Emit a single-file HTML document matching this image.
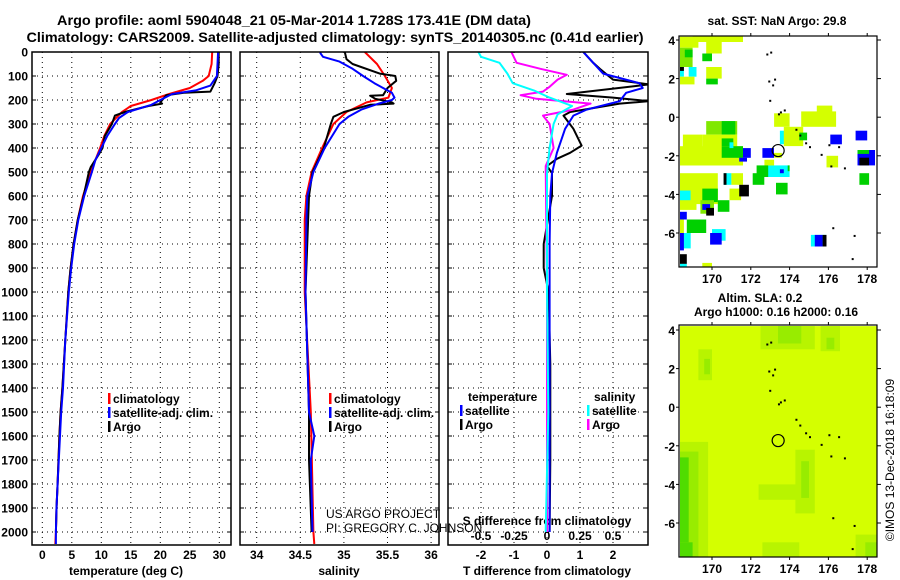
<!DOCTYPE html>
<html><head><meta charset="utf-8"><style>
html,body{margin:0;padding:0;background:#fff;}
svg{display:block;font-family:"Liberation Sans",sans-serif;}
.b{font-weight:bold;font-size:12px;}
</style></head><body>
<svg id="s" width="900" height="580" viewBox="0 0 900 580" xmlns="http://www.w3.org/2000/svg">
<text x="294" y="25" text-anchor="middle" font-weight="bold" font-size="14" textLength="474" lengthAdjust="spacingAndGlyphs">Argo profile: aoml 5904048_21 05-Mar-2014 1.728S 173.41E (DM data)</text>
<text x="335" y="42" text-anchor="middle" font-weight="bold" font-size="14" textLength="617" lengthAdjust="spacingAndGlyphs">Climatology: CARS2009. Satellite-adjusted climatology: synTS_20140305.nc (0.41d earlier)</text>
<g id="g"></g>
</svg>
<script>
// ---------- data ----------
const depthTicks=[0,100,200,300,400,500,600,700,800,900,1000,1100,1200,1300,1400,1500,1600,1700,1800,1900,2000];
const tempTicks=[0,5,10,15,20,25,30];
const salTicks=[34,34.5,35,35.5,36];
const tdiffTicks=[-2,-1,0,1,2];
const sdiffTicks=[-0.5,-0.25,0,0.25,0.5];
const latTicks=[4,2,0,-2,-4,-6];
const lonTicks=[170,172,174,176,178];

const tClimDepth=[0,50,100,120,150,175,200,225,250,275,300,350,400,450,500,600,700,800,900,1000,1200,1400,1500,1600,1800,1900,2000,2050];
const tClimVal=[28.8,28.7,28.2,27.2,25,21.5,18.5,15,13.5,12.5,11.5,10.5,9.8,9,8.2,6.9,6,5.3,4.8,4.4,3.9,3.4,3.1,2.9,2.6,2.4,2.3,2.2];
const tSatDepth=[0,100,140,160,175,200,220,250,275,300,350,400,450,500,600,700,800,900,1000,1200,1400,1500,1600,1800,1900,2000,2050];
const tSatVal=[29.8,29.6,28.5,26,22,20,18.5,14.5,13,12.3,11,10,9,8.4,7.1,6.1,5.4,4.9,4.5,3.9,3.5,3.2,3.0,2.6,2.4,2.3,2.3];
const tArgoDepth=[0,50,100,130,165,170,180,210,215,225,250,265,300,350,400,430,480,500,600,700,800,900,1000,1200,1400,1500,1600,1800,1900,2000];
const tArgoVal=[29.9,29.9,29.7,29.2,28.5,24,21,20,20.3,18,14,12.3,11.8,10.6,10.2,9.5,8.2,7.9,7.0,6.0,5.3,4.8,4.4,3.9,3.4,3.1,2.9,2.6,2.4,2.3];

const sClimDepth=[0,50,100,150,190,210,250,300,400,500,600,700,1000,1500,2000,2050];
const sClimVal=[35.24,35.38,35.47,35.55,35.51,35.26,35.03,34.88,34.75,34.63,34.57,34.55,34.55,34.62,34.65,34.66];
const sSatDepth=[0,5,20,40,70,100,130,150,170,190,200,215,240,270,300,400,500,600,700,1000,1500,1600,1700,2000];
const sSatVal=[34.73,34.73,34.76,34.95,35.1,35.22,35.35,35.45,35.55,35.58,35.55,35.4,35.2,35.05,34.95,34.78,34.65,34.58,34.57,34.56,34.6,34.66,34.62,34.64];
const sArgoDepth=[0,30,50,90,100,120,150,180,182,195,210,215,220,250,270,300,400,500,600,1000,1500,1700,2000];
const sArgoVal=[35.01,35.03,35.1,35.41,35.59,35.6,35.5,35.45,35.3,35.36,35.55,35.57,35.3,35.0,34.88,34.85,34.77,34.64,34.6,34.56,34.6,34.6,34.63];

const dtSatDepth=[0,45,90,130,150,170,205,240,265,320,420,505,600,800,1000,1500,2000];
const dtSatVal=[1.1,1.4,1.7,2.8,2.9,2.4,2.2,1.2,0.8,0.55,0.3,0.15,0.1,0.08,0.08,0.08,0.08];
const dtArgoDepth=[0,45,70,115,135,175,190,205,215,250,265,320,390,420,445,475,505,600,800,900,1000,1300,1500,1700,2000];
const dtArgoVal=[1.1,1.4,1.6,2.0,3.1,0.6,2.0,3.1,2.2,0.7,0.5,0.8,1.05,0.7,0.3,0.0,0.15,0.15,-0.1,-0.1,0.05,0.1,0.1,0.1,0.08];
const dsSatDepth=[0,20,45,90,130,160,190,225,260,300,400,505,1000,1500,2000];
const dsSatVal=[-0.52,-0.5,-0.36,-0.3,-0.26,-0.1,0.02,0.19,0.08,0.05,0.02,0,0,0.01,-0.01];
const dsArgoDepth=[0,45,70,95,115,145,165,180,195,215,240,265,300,400,475,1000,1500,2000];
const dsArgoVal=[-0.27,-0.23,-0.05,0.15,0.08,0.02,-0.03,-0.2,-0.08,0.33,0.2,-0.03,0.02,0.05,-0.01,0,0,0];

// SST map cells: lon0, lon1, latTop, latBottom, colour key
const sstCells=[
[168.35,169.3,4.17,3.6,'y'],[169.0,171.6,4.25,3.9,'y'],[169.7,170.5,3.9,3.3,'y'],[169.5,170.0,3.3,2.9,'g'],
[168.35,169.0,3.6,2.6,'l'],[168.6,169.0,3.5,3.1,'g'],[168.35,168.55,2.6,2.1,'c'],[168.8,169.2,2.6,2.1,'c'],[168.35,168.55,2.6,2.4,'k'],
[168.35,169.1,2.1,1.7,'y'],[169.7,170.5,2.6,2.0,'y'],[169.7,170.3,2.0,1.7,'g'],
[173.2,174.0,0.2,-0.5,'y'],[174.6,176.4,0.3,-0.5,'y'],[175.4,176.2,0.6,0.2,'y'],
[169.7,171.3,-0.2,-0.9,'l'],[170.5,171.2,-0.2,-0.9,'g'],
[168.5,169.5,-0.9,-1.6,'y'],[169.5,171.3,-0.9,-1.6,'y'],[170.5,171.1,-1.1,-1.6,'g'],
[168.35,171.6,-1.5,-2.5,'y'],[170.5,171.6,-1.5,-2.1,'g'],[170.9,171.1,-1.3,-1.6,'c'],
[171.6,172.0,-1.6,-2.1,'b'],[171.4,171.8,-2.1,-2.3,'b'],[172.6,173.2,-1.6,-2.1,'b'],[173.2,173.6,-1.85,-2.1,'y'],
[173.5,174.0,-0.7,-1.4,'c'],[173.7,174.7,-0.5,-1.5,'y'],[174.5,174.9,-0.8,-1.2,'g'],
[176.1,176.7,-0.9,-1.4,'b'],[177.4,178.0,-0.7,-1.2,'b'],[175.9,176.5,-2.0,-2.6,'y'],
[177.5,178.4,-1.7,-2.5,'b'],[177.6,178.1,-2.1,-2.5,'k'],[177.5,178.1,-1.7,-1.9,'g'],
[172.8,174.0,-2.5,-3.1,'c'],[172.7,173.2,-2.2,-2.5,'y'],[173.9,174.0,-2.5,-2.8,'g'],[173.5,173.7,-2.7,-2.9,'b'],
[172.3,172.9,-2.5,-3.1,'g'],[172.1,172.7,-2.9,-3.5,'g'],[177.6,178.1,-2.9,-3.5,'g'],[173.3,173.9,-3.4,-4.0,'g'],
[168.35,170.3,-2.9,-4.5,'y'],[170.6,171.0,-2.9,-3.5,'c'],[170.6,170.75,-2.9,-3.5,'k'],[171.0,171.6,-2.9,-3.5,'y'],
[168.35,168.9,-3.8,-4.5,'c'],[168.9,170.3,-3.7,-4.5,'y'],[169.5,170.3,-3.7,-4.4,'g'],
[168.35,169.2,-4.3,-4.8,'y'],[169.4,170.1,-4.3,-5.0,'l'],[169.5,169.9,-4.5,-4.8,'b'],[169.7,170.1,-4.7,-5.1,'k'],
[170.3,170.9,-4.3,-4.9,'g'],[170.9,171.5,-3.7,-4.3,'y'],[171.4,171.9,-3.5,-4.1,'k'],
[168.35,168.7,-4.9,-5.3,'b'],[168.35,168.55,-5.3,-6.0,'y'],[168.7,169.7,-5.3,-6.0,'g'],
[168.35,168.9,-6.0,-6.8,'c'],[168.35,168.55,-6.0,-6.9,'b'],[170.0,170.7,-5.8,-6.4,'c'],[169.9,170.5,-6.0,-6.6,'b'],
[175.1,175.9,-6.1,-6.7,'c'],[175.3,175.7,-6.1,-6.7,'b'],[175.7,175.9,-6.1,-6.7,'k'],
[168.35,168.7,-7.1,-7.6,'k'],[168.35,168.7,-7.6,-7.8,'c'],[169.5,170.0,-7.55,-7.8,'y']
];
// SLA map cells (green patches on yellow-green field)
const slaCells=[
[168.35,178.5,4.2,-7.8,'s0'],
[169.3,170.0,3.0,1.4,'s1'],[169.6,169.9,2.5,1.7,'s2'],
[172.5,175.3,4.2,3.0,'s1'],[173.4,174.6,4.2,3.3,'s2'],[175.6,176.6,4.2,2.9,'s1'],[175.9,176.3,3.6,3.0,'s2'],
[168.35,169.8,-1.8,-7.8,'s1'],[168.35,169.3,-2.3,-7.8,'s2'],[168.35,168.8,-2.6,-7.0,'s3'],[168.35,169.0,-7.0,-7.8,'s3'],
[174.3,175.3,-2.2,-5.5,'s1'],[174.6,175.0,-2.8,-4.7,'s2'],[172.4,174.5,-4.0,-4.8,'s1'],
[172.6,174.5,-7.0,-7.8,'s1'],[177.4,178.5,-6.6,-7.8,'s1'],[177.9,178.5,-7.0,-7.8,'s2']
];
const islandLon=[172.8,173.0,172.9,173.1,173.2,172.95,173.5,173.4,173.7,174.3,174.5,174.8,175.0,175.6,176.0,176.5,176.8,176.1,176.2,177.3,177.2];
const islandLat=[3.3,3.4,1.9,1.7,2.0,0.9,0.3,0.2,0.4,-0.6,-0.9,-1.3,-1.5,-1.9,-1.4,-1.5,-2.6,-2.5,-5.7,-6.1,-7.3];
const argoLon=173.41, argoLat=-1.728;

// ---------- drawing ----------
const NS='http://www.w3.org/2000/svg';
const G=document.getElementById('g');
function mk(tag,attrs,parent){const e=document.createElementNS(NS,tag);for(const k in attrs)e.setAttribute(k,attrs[k]);(parent||G).appendChild(e);return e;}
function txt(x,y,s,attrs,parent){const e=mk('text',Object.assign({x:x,y:y},attrs||{}),parent);e.textContent=s;return e;}
const top0=52, pxPerM=0.24;
const yD=d=>top0+d*pxPerM;
const xT=t=>42.3+t*5.9;
const xS=s=>256.7+(s-34)*87.2;
const xDT=v=>547+v*33;
const xDS=v=>547+v*132;
const panels=[{x0:32,x1:231,name:'temperature'},{x0:240,x1:439,name:'salinity'},{x0:448,x1:648,name:'difference'}];
const bottom=545;
function line(xs,ys,fx,color,name,w){
  let d='';for(let i=0;i<xs.length;i++){d+=(i?'L':'M')+fx(xs[i]).toFixed(1)+' '+yD(ys[i]).toFixed(1);}
  const p=mk('path',{d:d,fill:'none',stroke:color,'stroke-width':w||2,'stroke-linejoin':'round','clip-path':'url(#'+name.split('|')[1]+')'});
  
  
}
const defs=mk('defs',{});
panels.forEach((p,i)=>{const c=mk('clipPath',{id:'c'+i},defs);mk('rect',{x:p.x0,y:top0,width:p.x1-p.x0,height:bottom-top0},c);});
function vgrid(xs,fx){xs.forEach(v=>{const g=mk('line',{x1:fx(v),x2:fx(v),y1:top0,y2:bottom,stroke:'#000','stroke-width':1,'stroke-dasharray':'1 4'});});}
panels.forEach(p=>{depthTicks.forEach(d=>{const g=mk('line',{x1:p.x0,x2:p.x1,y1:yD(d),y2:yD(d),stroke:'#000','stroke-width':1,'stroke-dasharray':'1 4'});
  mk('line',{x1:p.x0,x2:p.x0+4,y1:yD(d),y2:yD(d),stroke:'#000'});mk('line',{x1:p.x1-4,x2:p.x1,y1:yD(d),y2:yD(d),stroke:'#000'});});});
vgrid(tempTicks,xT);vgrid(salTicks,xS);vgrid(tdiffTicks,xDT);
depthTicks.forEach(d=>{const t=txt(28,yD(d)+4.5,String(d),{'text-anchor':'end',class:'b'});});
tempTicks.forEach(v=>{const t=txt(xT(v),559,String(v),{'text-anchor':'middle',class:'b'});});
salTicks.forEach(v=>{const t=txt(xS(v),559,String(v),{'text-anchor':'middle',class:'b'});});
tdiffTicks.forEach(v=>{const t=txt(xDT(v),559,String(v),{'text-anchor':'middle',class:'b'});});
sdiffTicks.forEach(v=>{const t=txt(xDS(v),540,String(v),{'text-anchor':'middle',class:'b'});});
[['temperature (deg C)',126,'temperature-axis-title'],['salinity',339,'salinity-axis-title'],['T difference from climatology',547,'tdiff-axis-title']].forEach(a=>{const t=txt(a[1],575,a[0],{'text-anchor':'middle',class:'b'});});
{const t=txt(547,525,'S difference from climatology',{'text-anchor':'middle',class:'b'});}
{const t=txt(326,518,'US ARGO PROJECT',{'font-size':12,fill:'#000'});}
{const t=txt(326,532,'PI: GREGORY C. JOHNSON',{'font-size':12});}
line(tClimVal,tClimDepth,xT,'#f00','temperature-climatology-line|c0');
line(tArgoVal,tArgoDepth,xT,'#000','temperature-argo-line|c0');
line(tSatVal,tSatDepth,xT,'#00f','temperature-satellite-line|c0');
line(sClimVal,sClimDepth,xS,'#f00','salinity-climatology-line|c1');
line(sArgoVal,sArgoDepth,xS,'#000','salinity-argo-line|c1');
line(sSatVal,sSatDepth,xS,'#00f','salinity-satellite-line|c1');
line(dtArgoVal,dtArgoDepth,xDT,'#000','tdiff-argo-line|c2');
line(dtSatVal,dtSatDepth,xDT,'#00f','tdiff-satellite-line|c2');
line(dsArgoVal,dsArgoDepth,xDS,'#f0f','sdiff-argo-line|c2');
line(dsSatVal,dsSatDepth,xDS,'#0ff','sdiff-satellite-line|c2');
panels.forEach(p=>{const r=mk('rect',{x:p.x0,y:top0,width:p.x1-p.x0,height:bottom-top0,fill:'none',stroke:'#000','stroke-width':1.5});});
function leg(x,y,color,label,name){const b=mk('rect',{x:x,y:y-10,width:2.5,height:11,fill:color});
  const t=txt(x+5,y,label,{class:'b'});}
[[108,'t'],[329,'s']].forEach(a=>{leg(a[0],403,'#f00','climatology',a[1]+'-legend-climatology');leg(a[0],417,'#00f','satellite-adj. clim.',a[1]+'-legend-satellite');leg(a[0],431,'#000','Argo',a[1]+'-legend-argo');});
{const t=txt(468,401,'temperature',{class:'b'});}
leg(460,415,'#00f','satellite','tdiff-legend-satellite');leg(460,429,'#000','Argo','tdiff-legend-argo');
{const t=txt(594,401,'salinity',{class:'b'});}
leg(587,415,'#0ff','satellite','sdiff-legend-satellite');leg(587,429,'#f0f','Argo','sdiff-legend-argo');

// ---------- maps ----------
const colors={y:'#d4ff00',l:'#80e800',g:'#00d000',c:'#00ffff',b:'#0000ff',k:'#000',s0:'#d4ff00',s1:'#b8f400',s2:'#98ec00',s3:'#50dc00'};
function drawMap(y0,y1,lat4y,lat6y,cells,name){
  const x0=679,x1=877;
  const xL=lon=>712+(lon-170)*19.4;
  const yL=lat=>lat4y+(4-lat)*(lat6y-lat4y)/10;
  const cp=mk('clipPath',{id:'cl'+name},defs);mk('rect',{x:x0,y:y0,width:x1-x0,height:y1-y0},cp);
  const grp=mk('g',{'clip-path':'url(#cl'+name+')'});
  cells.forEach(c=>{const r=mk('rect',{x:xL(c[0]).toFixed(1),y:yL(c[2]).toFixed(1),width:(xL(c[1])-xL(c[0])).toFixed(1),height:(yL(c[3])-yL(c[2])).toFixed(1),fill:colors[c[4]]},grp);
    });
  islandLon.forEach((lo,i)=>{const r=mk('rect',{x:xL(lo),y:yL(islandLat[i]),width:2,height:2,fill:'#000'},grp);});
  const c=mk('circle',{cx:xL(argoLon),cy:yL(argoLat),r:6,fill:'none',stroke:'#000','stroke-width':1.2},grp);
  
  const f=mk('rect',{x:x0,y:y0,width:x1-x0,height:y1-y0,fill:'none',stroke:'#000','stroke-width':1.2});
  
  latTicks.forEach(l=>{const t=txt(675,yL(l)+5,String(l),{'text-anchor':'end',class:'b'});
    mk('line',{x1:x1,x2:x1+4,y1:yL(l),y2:yL(l),stroke:'#000'});mk('line',{x1:x0-3,x2:x0,y1:yL(l),y2:yL(l),stroke:'#000'});});
  lonTicks.forEach(l=>{const t=txt(xL(l),y1+16,String(l),{'text-anchor':'middle',class:'b'});
    mk('line',{x1:xL(l),x2:xL(l),y1:y1,y2:y1+3,stroke:'#000'});mk('line',{x1:xL(l),x2:xL(l),y1:y0-3,y2:y0,stroke:'#000'});});
}
drawMap(36,267,40,233,sstCells,'sst-map');
drawMap(325,557,330,523,slaCells,'sla-map');
{const t=txt(777,25,'sat. SST: NaN Argo: 29.8',{'text-anchor':'middle',class:'b'});}
{const t=txt(760,302,'Altim. SLA: 0.2',{'text-anchor':'middle',class:'b'});}
{const t=txt(776,316,'Argo h1000: 0.16 h2000: 0.16',{'text-anchor':'middle',class:'b'});}
{const t=txt(0,0,'©IMOS 13-Dec-2018 16:18:09',{'text-anchor':'middle','font-size':12,transform:'translate(894,460) rotate(-90)'});}
</script>
</body></html>
